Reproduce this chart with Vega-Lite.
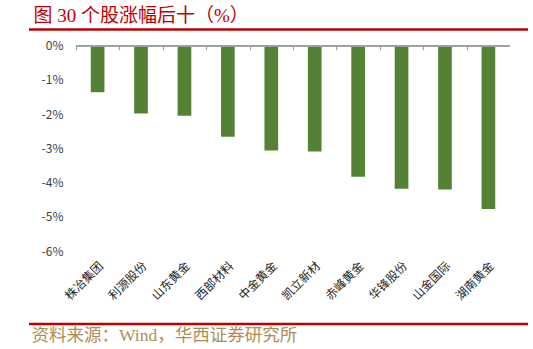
{
  "$schema": "https://vega.github.io/schema/vega-lite/v6.json",
  "autosize": "none",
  "width": 434,
  "height": 205.3,
  "padding": {"left": 76, "top": 45.7, "right": 23, "bottom": 98},
  "background": "white",
  "config": {"view": {"stroke": null}},
  "data": {
    "values": [
      {"name": "株冶集团", "value": -1.36},
      {"name": "利源股份", "value": -1.98},
      {"name": "山东黄金", "value": -2.05},
      {"name": "西部材料", "value": -2.66},
      {"name": "中金黄金", "value": -3.06},
      {"name": "凯立新材", "value": -3.09},
      {"name": "赤峰黄金", "value": -3.83},
      {"name": "华锋股份", "value": -4.18},
      {"name": "山金国际", "value": -4.2},
      {"name": "湖南黄金", "value": -4.77}
    ]
  },
  "resolve": {"axis": {"x": "independent"}},
  "layer": [
    {
      "mark": {"type": "bar", "color": "#548235"},
      "encoding": {
        "x": {
          "field": "name",
          "type": "nominal",
          "sort": null,
          "scale": {"paddingInner": 0.685, "paddingOuter": 0.34},
          "axis": {
            "orient": "bottom",
            "title": "资料来源：Wind，华西证券研究所",
            "titleX": -45,
            "titleY": 89,
            "titleAlign": "left",
            "titleAnchor": null,
            "titleBaseline": "alphabetic",
            "titleFont": "Liberation Serif, Noto Sans CJK SC",
            "titleFontSize": 17.5,
            "titleFontWeight": "normal",
            "titleColor": "#b08c57",
            "domain": false,
            "ticks": false,
            "labelAngle": -45,
            "labelPadding": 9,
            "labelFont": "Noto Sans CJK SC",
            "labelFontSize": 12,
            "labelColor": "#262626"
          }
        },
        "y": {
          "field": "value",
          "type": "quantitative",
          "scale": {"domain": [-6, 0], "nice": false},
          "axis": {
            "title": null,
            "values": [0, -1, -2, -3, -4, -5, -6],
            "labelExpr": "datum.value + '%'",
            "labelOverlap": false,
            "domain": false,
            "ticks": false,
            "grid": false,
            "labelPadding": 13,
            "labelFont": "Noto Sans CJK SC",
            "labelFontSize": 12,
            "labelColor": "#404040"
          }
        }
      }
    },
    {
      "mark": {"type": "bar", "opacity": 0},
      "encoding": {
        "x": {
          "field": "name",
          "type": "nominal",
          "sort": null,
          "axis": {
            "orient": "top",
            "offset": -4,
            "title": "图 30 个股涨幅后十（%）",
            "titleX": -43,
            "titleY": -28.7,
            "titleAlign": "left",
            "titleAnchor": null,
            "titleBaseline": "alphabetic",
            "titleFont": "Liberation Serif, Noto Sans CJK SC",
            "titleFontSize": 19,
            "titleFontWeight": "normal",
            "titleColor": "#c00000",
            "labels": false,
            "domain": false,
            "ticks": true,
            "tickColor": "#a0a0a0",
            "tickWidth": 1.2,
            "tickSize": 4,
            "tickOffset": -21.7
          }
        },
        "y": {
          "field": "value",
          "type": "quantitative",
          "axis": {
            "title": null,
            "values": [0, -1, -2, -3, -4, -5, -6],
            "labelExpr": "datum.value + '%'",
            "labelOverlap": false,
            "domain": false,
            "ticks": false,
            "grid": false,
            "labelPadding": 13,
            "labelFont": "Noto Sans CJK SC",
            "labelFontSize": 12,
            "labelColor": "#404040"
          }
        }
      }
    },
    {
      "mark": {"type": "rule", "color": "#a0a0a0", "strokeWidth": 1.5},
      "encoding": {
        "y": {
          "datum": 0,
          "type": "quantitative",
          "axis": {
            "title": null,
            "values": [0, -1, -2, -3, -4, -5, -6],
            "labelExpr": "datum.value + '%'",
            "labelOverlap": false,
            "domain": false,
            "ticks": false,
            "grid": false,
            "labelPadding": 13,
            "labelFont": "Noto Sans CJK SC",
            "labelFontSize": 12,
            "labelColor": "#404040"
          }
        }
      }
    },
    {
      "data": {"values": [{"line": "top", "y": 0.47}, {"line": "bottom", "y": -8.13}]},
      "mark": {"type": "rule", "color": "#c00000", "strokeWidth": 2.5},
      "encoding": {
        "y": {
          "field": "y",
          "type": "quantitative",
          "axis": {
            "title": null,
            "values": [0, -1, -2, -3, -4, -5, -6],
            "labelExpr": "datum.value + '%'",
            "labelOverlap": false,
            "domain": false,
            "ticks": false,
            "grid": false,
            "labelPadding": 13,
            "labelFont": "Noto Sans CJK SC",
            "labelFontSize": 12,
            "labelColor": "#404040"
          }
        },
        "x": {"value": -47},
        "x2": {"value": 452}
      }
    }
  ]
}
